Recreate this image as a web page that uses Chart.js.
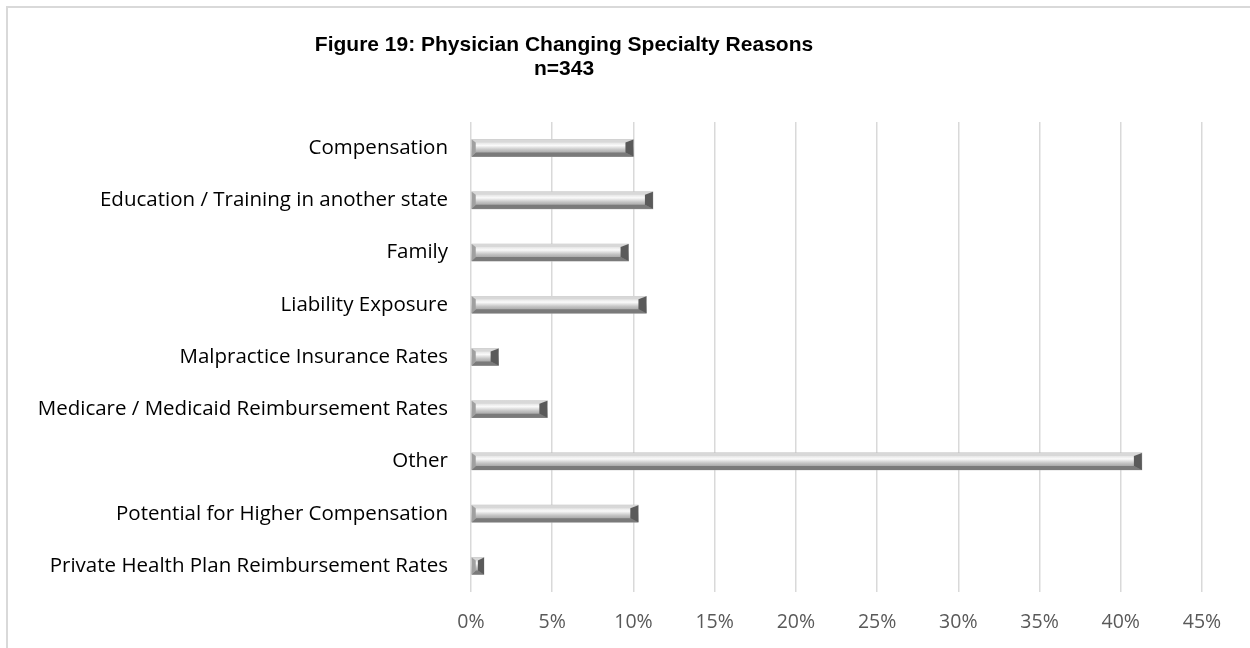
<!DOCTYPE html>
<html>
<head>
<meta charset="utf-8">
<script src="https://cdn.jsdelivr.net/npm/chart.js@4.4.0/dist/chart.umd.min.js"></script>
<style>
  html, body { margin: 0; padding: 0; background: #fff; overflow: hidden; }
  #wrap { position: relative; width: 1250px; height: 648px; }
  #frame { position: absolute; left: 6px; top: 6px; width: 1300px; height: 700px; border: 2px solid #d9d9d9; box-sizing: border-box; }
  canvas { position: absolute; left: 0; top: 0; }
</style>
</head>
<body>
<div id="wrap">
  <div id="frame"></div>
  <canvas id="reasons" width="1250" height="648"></canvas>
</div>
<script>
// values (percent of respondents)
const reasons = [
    'Compensation',
    'Education / Training in another state',
    'Family',
    'Liability Exposure',
    'Malpractice Insurance Rates',
    'Medicare / Medicaid Reimbursement Rates',
    'Other',
    'Potential for Higher Compensation',
    'Private Health Plan Reimbursement Rates'
];
const percents = [10.0, 11.2, 9.7, 10.8, 1.7, 4.7, 41.3, 10.3, 0.8];
const tickSteps = [0, 5, 10, 15, 20, 25, 30, 35, 40, 45];
const titleLines = ['Figure 19: Physician Changing Specialty Reasons', 'n=343'];

// draws the bevelled look of the bars over the library's own bar rects
const bevelBars = {
    id: 'bevelBars',
    afterDatasetsDraw(chart) {
        const ctx = chart.ctx;
        chart.getDatasetMeta(0).data.forEach(bar => {
            const left = bar.base, right = bar.x;
            const top = bar.y - bar.height / 2, bottom = bar.y + bar.height / 2;
            const dx = Math.min(8, (right - left) / 2), dl = Math.min(4, (right - left) / 3), dt = 3, db = 4;
            ctx.save();
            // face
            const g = ctx.createLinearGradient(0, top, 0, bottom);
            g.addColorStop(0, '#d0d0d0');
            g.addColorStop(0.35, '#fafafa');
            g.addColorStop(0.6, '#c4c4c4');
            g.addColorStop(1, '#858585');
            ctx.fillStyle = g;
            ctx.fillRect(left, top, right - left, bottom - top);
            // top facet
            ctx.fillStyle = '#d8d8d8';
            ctx.beginPath();
            ctx.moveTo(left, top); ctx.lineTo(right, top);
            ctx.lineTo(right - dx, top + dt); ctx.lineTo(left + dl, top + dt);
            ctx.closePath(); ctx.fill();
            // bottom facet
            ctx.fillStyle = '#7a7a7a';
            ctx.beginPath();
            ctx.moveTo(left, bottom); ctx.lineTo(right, bottom);
            ctx.lineTo(right - dx, bottom - db); ctx.lineTo(left + dl, bottom - db);
            ctx.closePath(); ctx.fill();
            // left facet
            ctx.fillStyle = '#a0a0a0';
            ctx.beginPath();
            ctx.moveTo(left, top); ctx.lineTo(left + dl, top + dt);
            ctx.lineTo(left + dl, bottom - db); ctx.lineTo(left, bottom);
            ctx.closePath(); ctx.fill();
            // right facet
            ctx.fillStyle = '#5a5a5a';
            ctx.beginPath();
            ctx.moveTo(right, top); ctx.lineTo(right - dx, top + dt);
            ctx.lineTo(right - dx, bottom - db); ctx.lineTo(right, bottom);
            ctx.closePath(); ctx.fill();
            ctx.restore();
        });
    }
};

// two line title, centred like the original figure
const figureTitle = {
    id: 'figureTitle',
    afterDraw(chart) {
        const ctx = chart.ctx;
        ctx.save();
        ctx.fillStyle = '#000';
        ctx.font = 'bold 21px "Liberation Sans", Arial, sans-serif';
        ctx.textAlign = 'center';
        ctx.textBaseline = 'middle';
        titleLines.forEach((t, i) => ctx.fillText(t, 564, 45 + i * 24));
        ctx.restore();
    }
};

new Chart(document.getElementById('reasons'), {
    type: 'bar',
    data: {
        labels: reasons,
        datasets: [{
            data: percents,
            backgroundColor: '#bdbdbd',
            borderWidth: 0,
            barThickness: 17
        }]
    },
    plugins: [bevelBars, figureTitle],
    options: {
        indexAxis: 'y',
        responsive: false,
        animation: false,
        layout: { padding: { top: 122, left: 0, right: 48, bottom: 0 } },
        plugins: {
            legend: { display: false },
            tooltip: { enabled: false }
        },
        scales: {
            x: {
                min: 0,
                max: 45,
                afterBuildTicks: axis => { axis.ticks = tickSteps.map(v => ({ value: v })); },
                afterFit: axis => { axis.height = 56; },
                grid: { color: '#d9d9d9', lineWidth: 1.5, drawTicks: false },
                border: { display: false },
                ticks: {
                    padding: 19,
                    color: '#595959',
                    font: { family: '"Open Sans", sans-serif', size: 19.5 },
                    callback: v => v + '%'
                }
            },
            y: {
                afterFit: axis => { axis.width = 471; },
                grid: { display: false },
                border: { display: false },
                ticks: {
                    padding: 15,
                    color: '#000',
                    font: { family: '"Open Sans", sans-serif', size: 20.5 }
                }
            }
        }
    }
});
</script>
</body>
</html>
